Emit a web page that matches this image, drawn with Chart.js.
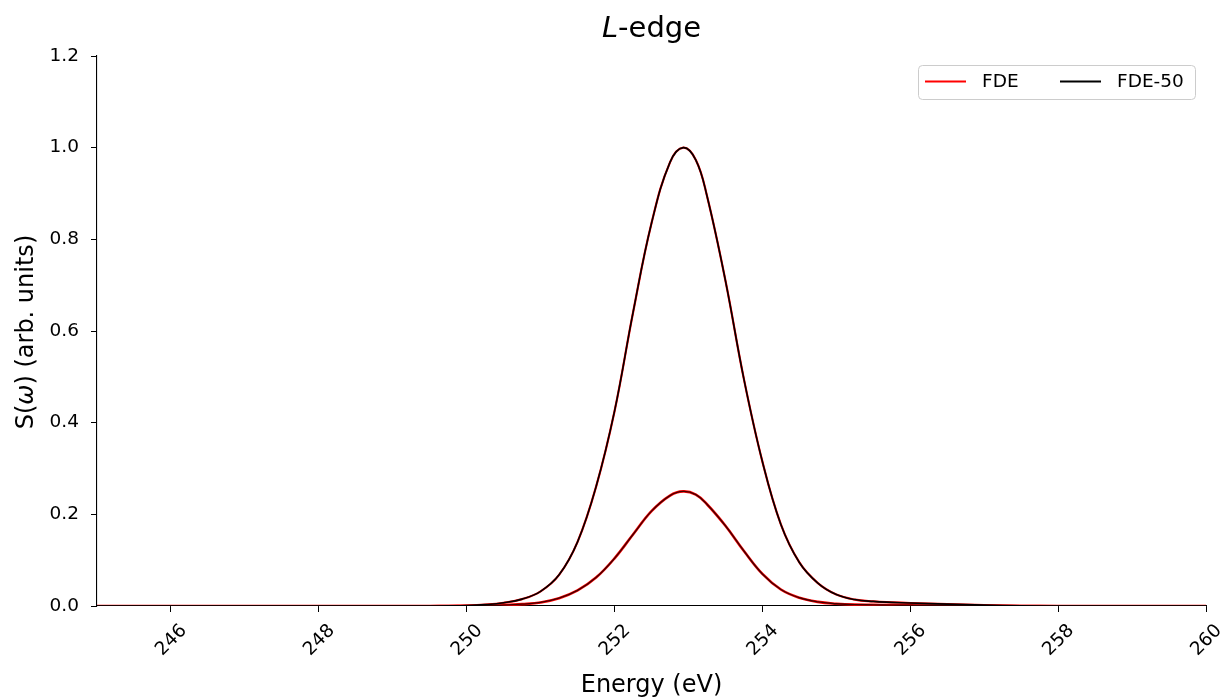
<!DOCTYPE html>
<html>
<head>
<meta charset="utf-8">
<script src="https://cdn.jsdelivr.net/npm/chart.js@4.4.1/dist/chart.umd.min.js"></script>
<style>
  html, body { margin: 0; padding: 0; background: #fff; }
  #wrap { width: 1223px; height: 700px; position: relative; }
</style>
</head>
<body>
<div id="wrap"><canvas id="chart"></canvas></div>
<script>
var energies = [245, 246, 247, 248, 249, 249.5, 249.75, 250, 250.25, 250.5, 250.75, 251, 251.25, 251.5, 251.75,
                252, 252.25, 252.5, 252.75, 252.93, 253.1, 253.25, 253.5, 253.75, 254, 254.25, 254.5, 254.75,
                255, 255.25, 255.5, 255.75, 256, 256.5, 257, 257.5, 258, 259, 260];

// big peak (normalised to 1)
var fdeHigh = [0, 0, 0, 0, 0, 0, 0.0003, 0.001, 0.003, 0.007, 0.015, 0.032, 0.068, 0.14, 0.26,
               0.425, 0.64, 0.835, 0.968, 1.0, 0.973, 0.895, 0.71, 0.495, 0.315, 0.178, 0.095, 0.05,
               0.025, 0.014, 0.01, 0.008, 0.0065, 0.004, 0.002, 0.0005, 0, 0, 0];

// small peak
var fdeLow = [0, 0, 0, 0, 0, 0, 0.0001, 0.0003, 0.0008, 0.0018, 0.004, 0.0078, 0.017, 0.034, 0.062,
              0.104, 0.156, 0.207, 0.241, 0.25, 0.243, 0.222, 0.175, 0.12, 0.07, 0.036, 0.018, 0.009,
              0.005, 0.003, 0.0025, 0.002, 0.0015, 0.001, 0.0005, 0, 0, 0, 0];

// FDE-50 lies on top of FDE in the picture
var fde50High = fdeHigh;
var fde50Low = fdeLow;

var xTicks = [246, 248, 250, 252, 254, 256, 258, 260];
var yTicks = [0, 0.2, 0.4, 0.6, 0.8, 1.0, 1.2];

var FONT = '"DejaVu Sans", sans-serif';

function pts(ys) {
  return energies.map(function (e, i) { return {x: e, y: ys[i]}; });
}

function line(label, ys, color, width, order) {
  return {
    label: label,
    data: pts(ys),
    borderColor: color,
    borderWidth: width,
    pointRadius: 0,
    fill: false,
    tension: 0.4,
    order: order
  };
}

// title, axis labels and legend box (matplotlib style)
var decorations = {
  id: 'decorations',
  afterDraw: function (chart) {
    var ctx = chart.ctx;
    ctx.save();
    ctx.fillStyle = '#000';
    ctx.textBaseline = 'alphabetic';

    // title: italic L + "-edge"
    ctx.font = 'italic 29px ' + FONT;
    var wL = ctx.measureText('L').width;
    ctx.font = '29px ' + FONT;
    var wRest = ctx.measureText('-edge').width;
    var cx = (chart.chartArea.left + chart.chartArea.right) / 2;
    var x0 = cx - (wL + wRest) / 2;
    ctx.textAlign = 'left';
    ctx.font = 'italic 29px ' + FONT;
    ctx.fillText('L', x0, 37);
    ctx.font = '29px ' + FONT;
    ctx.fillText('-edge', x0 + wL, 37);

    // x label
    ctx.font = '24px ' + FONT;
    ctx.textAlign = 'center';
    ctx.fillText('Energy (eV)', cx, 692);

    // y label with italic omega
    var parts = [['S(', ''], ['ω', 'italic '], [') (arb. units)', '']];
    var total = 0;
    parts.forEach(function (p) { ctx.font = p[1] + '24px ' + FONT; p.push(ctx.measureText(p[0]).width); total += p[2]; });
    ctx.translate(33, 332);
    ctx.rotate(-Math.PI / 2);
    ctx.textAlign = 'left';
    var px = -total / 2;
    parts.forEach(function (p) { ctx.font = p[1] + '24px ' + FONT; ctx.fillText(p[0], px, 0); px += p[2]; });
    ctx.restore();

    // legend
    ctx.save();
    var bx = 918.5, by = 65.5, bw = 277, bh = 34, r = 4;
    ctx.fillStyle = 'rgba(255,255,255,0.8)';
    ctx.strokeStyle = '#cccccc';
    ctx.lineWidth = 1;
    ctx.beginPath();
    ctx.roundRect(bx, by, bw, bh, r);
    ctx.fill();
    ctx.stroke();
    var items = [['FDE', '#ff0000', 925], ['FDE-50', '#000000', 1060]];
    ctx.font = '18.5px ' + FONT;
    ctx.textBaseline = 'middle';
    ctx.textAlign = 'left';
    items.forEach(function (it) {
      ctx.strokeStyle = it[1];
      ctx.lineWidth = 1.8;
      ctx.beginPath();
      ctx.moveTo(it[2], 81.5);
      ctx.lineTo(it[2] + 41, 81.5);
      ctx.stroke();
      ctx.fillStyle = '#000';
      ctx.fillText(it[0], it[2] + 57, 82);
    });
    ctx.restore();
  }
};

new Chart(document.getElementById('chart'), {
  type: 'line',
  data: {
    datasets: [
      line('FDE-50', fde50High, '#000000', 1.6, 1),
      line('FDE-50', fde50Low, 'rgba(0,0,0,0.75)', 1.4, 1),
      line('FDE', fdeHigh, '#ff0000', 2.2, 2),
      line('FDE', fdeLow, '#ff0000', 2.6, 2)
    ]
  },
  options: {
    responsive: true,
    maintainAspectRatio: false,
    animation: false,
    events: [],
    layout: { padding: { top: 56, right: 17, left: 0, bottom: 0 } },
    plugins: {
      legend: { display: false },
      title: { display: false },
      tooltip: { enabled: false }
    },
    scales: {
      x: {
        type: 'linear',
        min: 245,
        max: 260,
        afterBuildTicks: function (s) { s.ticks = xTicks.map(function (v) { return {value: v}; }); },
        afterFit: function (s) { s.height = 94; s.paddingLeft = 0; s.paddingRight = 0; },
        grid: { drawOnChartArea: false, drawTicks: true, tickLength: 6, tickColor: '#000', tickWidth: 1 },
        border: { display: true, color: '#000', width: 1.1 },
        ticks: {
          autoSkip: false,
          minRotation: 45,
          maxRotation: 45,
          labelOffset: 13,
          padding: 8,
          color: '#000',
          font: { family: FONT, size: 18.5 },
          callback: function (v) { return String(v); }
        }
      },
      y: {
        min: 0,
        max: 1.2,
        afterBuildTicks: function (s) { s.ticks = yTicks.map(function (v) { return {value: v}; }); },
        afterFit: function (s) { s.width = 97; s.paddingTop = 0; s.paddingBottom = 0; },
        grid: { drawOnChartArea: false, drawTicks: true, tickLength: 6, tickColor: '#000', tickWidth: 1 },
        border: { display: true, color: '#000', width: 1.1 },
        ticks: {
          autoSkip: false,
          padding: 12,
          color: '#000',
          font: { family: FONT, size: 18.5 },
          callback: function (v) { return v.toFixed(1); }
        }
      }
    }
  },
  plugins: [decorations]
});
</script>
</body>
</html>
